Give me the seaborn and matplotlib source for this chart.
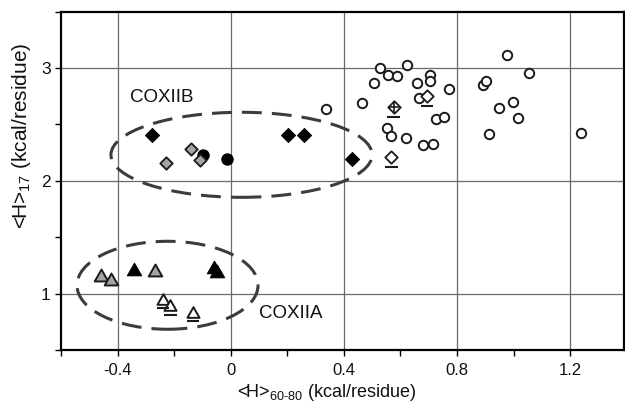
import numpy as np
import matplotlib
matplotlib.use("Agg")
import matplotlib.pyplot as plt
import seaborn as sns
from matplotlib.patches import Ellipse
from matplotlib.path import Path
from matplotlib.ticker import FixedLocator, FuncFormatter

# ---------------- data ----------------
open_circle_x = [0.335, 0.464, 0.506, 0.526, 0.556, 0.588, 0.624, 0.659, 0.703, 0.703,
                 0.773, 0.667, 0.553, 0.565, 0.620, 0.679, 0.714, 0.724, 0.754, 0.891,
                 0.903, 0.977, 1.054, 0.948, 0.998, 1.016, 0.912, 1.237]
open_circle_y = [2.640, 2.690, 2.867, 3.000, 2.935, 2.929, 3.030, 2.867, 2.941, 2.885,
                 2.814, 2.734, 2.468, 2.394, 2.383, 2.321, 2.330, 2.545, 2.566, 2.847,
                 2.882, 3.113, 2.959, 2.645, 2.699, 2.560, 2.418, 2.427]

open_diamond_x = [0.694, 0.568]
open_diamond_y = [2.749, 2.211]
crossed_diamond_x = [0.576]
crossed_diamond_y = [2.654]

black_diamond_x = [-0.280, 0.203, 0.258, 0.429]
black_diamond_y = [2.403, 2.410, 2.410, 2.197]
gray_diamond_x = [-0.139, -0.229, -0.107]
gray_diamond_y = [2.285, 2.158, 2.182]
black_circle_x = [-0.099, -0.013]
black_circle_y = [2.226, 2.191]

black_triangle_x = [-0.343, -0.060, -0.048]
black_triangle_y = [1.222, 1.236, 1.200]
gray_triangle_x = [-0.457, -0.425, -0.269]
gray_triangle_y = [1.168, 1.133, 1.207]
open_triangle_x = [-0.240, -0.213, -0.134]
open_triangle_y = [0.956, 0.896, 0.837]

x_tick_labels = ["-0.4", "0", "0.4", "0.8", "1.2"]
y_tick_labels = ["1", "2", "3"]
group_labels = ["COXIIB", "COXIIA"]

# ---------------- style ----------------
sns.set_theme(style="white")
plt.rcParams["font.family"] = ["Liberation Sans", "DejaVu Sans"]
plt.rcParams["mathtext.fontset"] = "custom"
plt.rcParams["mathtext.rm"] = "Liberation Sans"
plt.rcParams["mathtext.it"] = "Liberation Sans:italic"
plt.rcParams["axes.unicode_minus"] = False

fig = plt.figure(figsize=(6.25, 4.03), dpi=100)
ax = fig.add_axes([0.0976, 0.1315, 0.9008, 0.8395])

ax.set_xlim(-0.6, 1.39)
ax.set_ylim(0.5, 3.5)

xmaj = [float(t) for t in x_tick_labels]
ymaj = [float(t) for t in y_tick_labels]
ax.xaxis.set_major_locator(FixedLocator(xmaj))
ax.xaxis.set_minor_locator(FixedLocator([-0.6, -0.2, 0.2, 0.6, 1.0]))
ax.yaxis.set_major_locator(FixedLocator(ymaj))
ax.yaxis.set_minor_locator(FixedLocator([0.5, 1.5, 2.5, 3.5]))
ax.xaxis.set_major_formatter(FuncFormatter(lambda v, p: f"{v:g}"))
ax.yaxis.set_major_formatter(FuncFormatter(lambda v, p: f"{v:g}"))

ax.tick_params(which="both", direction="out", length=4, width=1.0, color="black",
               bottom=True, left=True, top=False, right=False)
ax.tick_params(axis="x", which="major", labelsize=12, labelcolor="#111111", pad=5)
ax.tick_params(axis="y", which="major", labelsize=12.5, labelcolor="#111111", pad=3.5)
ax.grid(True, which="major", color="#6a6a6a", linewidth=0.9)
ax.set_axisbelow(True)
for sp in ax.spines.values():
    sp.set_color("black")
    sp.set_linewidth(1.6)

ax.set_xlabel("<H>$_{\\mathregular{60\u201080}}$ (kcal/residue)", fontsize=13, color="#111111")
ax.set_ylabel("<H>$_{\\mathregular{17}}$ (kcal/residue)", fontsize=15, color="#111111")
ax.xaxis.set_label_coords(0.471, -0.095)
ax.yaxis.set_label_coords(-0.05, 0.633)

# dashed ellipses marking the two groups
ell_kw = dict(fill=False, edgecolor="#3c3c3c", linewidth=2.2, zorder=2)
e1 = Ellipse((0.038, 2.231), 0.923, 0.754, **ell_kw)
e2 = Ellipse((-0.2235, 1.074), 0.640, 0.780, **ell_kw)
for e in (e1, e2):
    e.set_linestyle((0, (6.5, 3.3)))
    ax.add_patch(e)

ax.text(-0.355, 2.743, group_labels[0], fontsize=13.5, ha="left", va="center", color="#111111")
ax.text(0.099, 0.825, group_labels[1], fontsize=13.5, ha="left", va="center", color="#111111")

# custom markers
tri_verts = np.array([(0, 0.88), (-1, -0.88), (1, -0.88), (0, 0.88)])
tri = Path(tri_verts, closed=True)
underline = Path(np.array([(-0.66, -1.0), (0.66, -1.0)]), [Path.MOVETO, Path.LINETO])

edge = "#1a1a1a"
gray = "#a4a4a4"

# right cluster
sns.scatterplot(x=open_circle_x, y=open_circle_y, marker="o", s=46, color="white",
                edgecolor=edge, linewidth=1.4, ax=ax, zorder=3)
sns.scatterplot(x=open_diamond_x + crossed_diamond_x, y=open_diamond_y + crossed_diamond_y,
                marker="D", s=40, color="white", edgecolor=edge, linewidth=1.3, ax=ax, zorder=3)
sns.scatterplot(x=crossed_diamond_x, y=crossed_diamond_y, marker="+", s=80, color=edge,
                linewidth=1.2, ax=ax, zorder=4)

# COXIIB group
sns.scatterplot(x=black_circle_x, y=black_circle_y, marker="o", s=66, color="black",
                edgecolor="black", linewidth=0.8, ax=ax, zorder=3)
sns.scatterplot(x=black_diamond_x, y=black_diamond_y, marker="D", s=50, color="black",
                edgecolor="black", linewidth=0.8, ax=ax, zorder=3)
sns.scatterplot(x=gray_diamond_x, y=gray_diamond_y, marker="D", s=40, color=gray,
                edgecolor=edge, linewidth=1.3, ax=ax, zorder=4)

# COXIIA group
sns.scatterplot(x=black_triangle_x, y=black_triangle_y, marker=tri, s=105, color="black",
                edgecolor="black", linewidth=0.8, ax=ax, zorder=3)
sns.scatterplot(x=gray_triangle_x, y=gray_triangle_y, marker=tri, s=95, color=gray,
                edgecolor=edge, linewidth=1.4, ax=ax, zorder=3)
sns.scatterplot(x=open_triangle_x, y=open_triangle_y, marker=tri, s=76, color="white",
                edgecolor=edge, linewidth=1.4, ax=ax, zorder=3)

# underline marks below selected points
ul_x = open_diamond_x + crossed_diamond_x + open_triangle_x
ul_y = open_diamond_y + crossed_diamond_y + open_triangle_y
sns.scatterplot(x=ul_x, y=ul_y, marker=underline, s=187, facecolor="none",
                edgecolor=edge, linewidth=1.5, ax=ax, zorder=3)

fig.savefig("out.png", dpi=100)
